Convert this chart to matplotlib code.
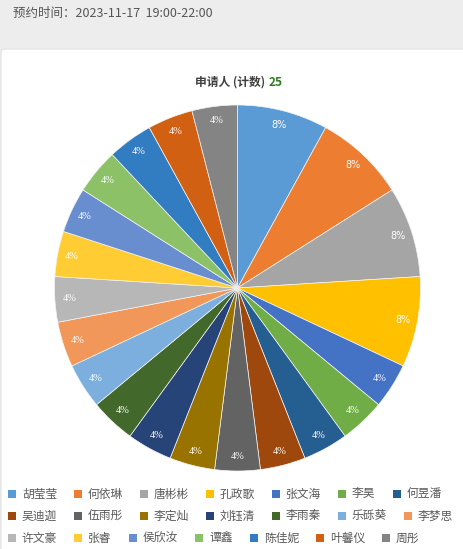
import matplotlib
matplotlib.use("Agg")
import matplotlib.pyplot as plt
from matplotlib.patches import FancyBboxPatch, Rectangle

plt.rcParams['font.family'] = ['Noto Sans CJK SC', 'DejaVu Sans']

names = ["胡莹莹", "何依琳", "唐彬彬", "孔政歌", "张文海", "李昊", "何昱潘",
         "吴迪迦", "伍雨彤", "李定灿", "刘钰清", "李雨秦", "乐砾葵", "李梦思",
         "许文豪", "张睿", "侯欣汝", "谭鑫", "陈佳妮", "叶馨仪", "周彤"]
counts = [2, 2, 2, 2, 1, 1, 1,
          1, 1, 1, 1, 1, 1, 1,
          1, 1, 1, 1, 1, 1, 1]
colors = ["#5B9BD5", "#ED7D31", "#A5A5A5", "#FFC000", "#4472C4", "#70AD47", "#255E91",
          "#9E480E", "#636363", "#997300", "#264478", "#43682B", "#7CAFDD", "#F1975A",
          "#B7B7B7", "#FFCD33", "#698ED0", "#8CC168", "#327DC2", "#D26012", "#848484"]
header_text = "预约时间：2023-11-17  19:00-22:00"
title_text = "申请人 (计数)"
total_text = str(sum(counts))

W, H = 463, 549
fig = plt.figure(figsize=(W / 100, H / 100), dpi=100)
fig.patch.set_facecolor("#EDEDED")

# white card
card = FancyBboxPatch((1 / W, -0.05), (W + 10) / W, (H - 49) / H + 0.05,
                      boxstyle="round,pad=0,rounding_size=0.008",
                      transform=fig.transFigure, facecolor="white",
                      edgecolor="#E2E2E2", linewidth=0.8, zorder=-10)
fig.patches.append(card)

fig.text(13 / W, 1 - 13 / H, header_text, fontsize=9, color="#555555",
         ha="left", va="center")

fig.text(265 / W, 1 - 82 / H, title_text, fontsize=8.5, color="#404040",
         fontweight="bold", ha="right", va="center")
fig.text(269 / W, 1 - 82 / H, total_text, fontsize=8.5, color="#2E7D1E",
         fontweight="bold", ha="left", va="center")

cx, cy, R = 237.5, 288, 183
ax = fig.add_axes([(cx - R) / W, (H - cy - R) / H, 2 * R / W, 2 * R / H])
ax.set_zorder(5)
ax.patch.set_visible(False)
wedges, texts, autotexts = ax.pie(counts, colors=colors, startangle=90,
                                  counterclock=False, autopct="%.0f%%",
                                  pctdistance=0.92,
                                  wedgeprops=dict(edgecolor="#F4F4F4", linewidth=0.5))
for t, c in zip(autotexts, counts):
    t.set_color("white")
    if c == 1:
        t.set_fontfamily("Liberation Serif")
        t.set_fontsize(7.5)
    else:
        t.set_fontfamily("DejaVu Sans")
        t.set_fontsize(7)
ax.set_xlim(-1, 1)
ax.set_ylim(-1, 1)
ax.set_aspect("equal")
ax.axis("off")

# legend (flow layout, 7 items per row)
row_y = [494, 516, 538]
per_row = 7
for i, (n, col) in enumerate(zip(names, colors)):
    r = i // per_row
    k = i % per_row
    x = 8
    for j in range(r * per_row, r * per_row + k):
        x += 33 + 11 * len(names[j])
    y = row_y[r]
    fig.patches.append(Rectangle((x / W, 1 - (y + 4) / H), 8 / W, 8 / H,
                                 transform=fig.transFigure, facecolor=col,
                                 edgecolor="none", zorder=2))
    fig.text((x + 14) / W, 1 - y / H, n, fontsize=8.5, color="#595959",
             ha="left", va="center")

fig.savefig("out.png", dpi=100, facecolor=fig.get_facecolor())
